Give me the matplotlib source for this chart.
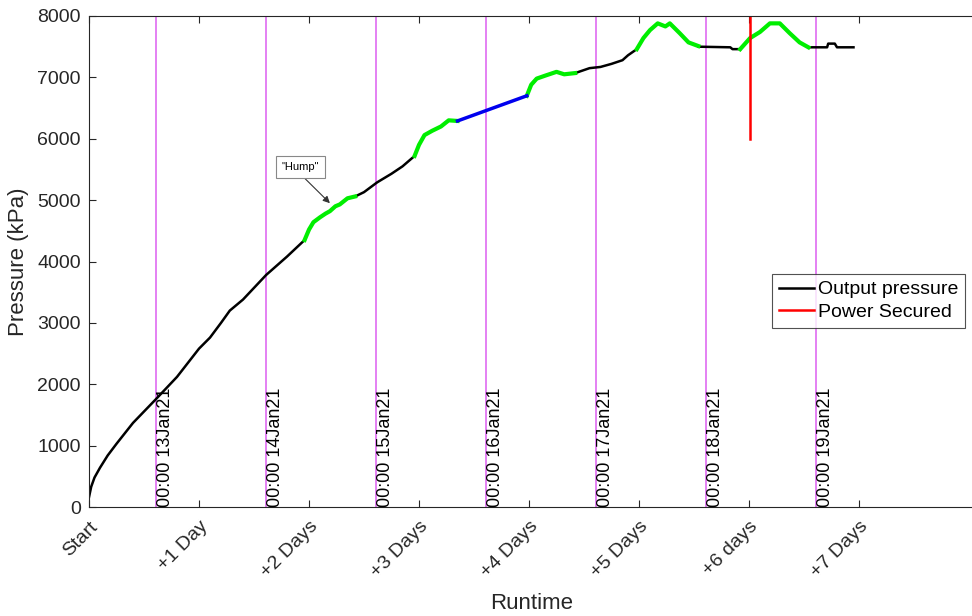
import numpy as np
import matplotlib
matplotlib.use('Agg')
import matplotlib.pyplot as plt
from matplotlib.transforms import ScaledTranslation

plt.rcParams['font.family'] = ['Liberation Sans', 'DejaVu Sans']

# runtime in days since start, pressure in kPa
black1_x = [0, 0.02, 0.05, 0.1, 0.17, 0.25, 0.4, 0.61, 0.8, 1.0, 1.1, 1.2, 1.28, 1.4, 1.61, 1.8, 1.96]
black1_y = [160, 330, 480, 640, 840, 1030, 1370, 1760, 2120, 2580, 2760, 3000, 3200, 3380, 3780, 4080, 4350]
green1_x = [1.96, 2.0, 2.04, 2.1, 2.15, 2.19, 2.24, 2.28, 2.35, 2.42]
green1_y = [4350, 4520, 4640, 4720, 4780, 4820, 4900, 4930, 5030, 5060]
black2_x = [2.42, 2.5, 2.62, 2.75, 2.85, 2.96]
black2_y = [5060, 5130, 5290, 5430, 5550, 5720]
green2_x = [2.96, 3.0, 3.05, 3.12, 3.2, 3.27, 3.35]
green2_y = [5720, 5900, 6060, 6130, 6200, 6300, 6290]
blue_x = [3.35, 3.98]
blue_y = [6290, 6700]
green3_x = [3.98, 4.02, 4.07, 4.15, 4.25, 4.32, 4.42]
green3_y = [6700, 6880, 6980, 7030, 7090, 7050, 7070]
black3_x = [4.42, 4.55, 4.65, 4.75, 4.85, 4.9, 4.98]
black3_y = [7070, 7150, 7170, 7220, 7280, 7360, 7460]
green4_x = [4.98, 5.04, 5.10, 5.17, 5.24, 5.28, 5.37, 5.45, 5.54]
green4_y = [7460, 7640, 7770, 7880, 7830, 7880, 7720, 7570, 7510]
black4_x = [5.54, 5.83, 5.85, 5.92]
black4_y = [7500, 7490, 7460, 7460]
green5_x = [5.92, 6.01, 6.10, 6.19, 6.28, 6.37, 6.46, 6.54]
green5_y = [7460, 7640, 7740, 7880, 7880, 7720, 7570, 7490]
black5_x = [6.54, 6.71, 6.72, 6.78, 6.80, 6.95]
black5_y = [7490, 7490, 7550, 7550, 7490, 7490]

midnights = [0.61, 1.61, 2.61, 3.61, 4.61, 5.61, 6.61]
midnight_labels = ['00:00 13Jan21', '00:00 14Jan21', '00:00 15Jan21', '00:00 16Jan21',
                   '00:00 17Jan21', '00:00 18Jan21', '00:00 19Jan21']
power_x = 6.01
power_y = [6000, 8000]

tick_pos = [0, 1, 2, 3, 4, 5, 6, 7]
tick_labels = ['Start', '+1 Day', '+2 Days', '+3 Days', '+4 Days', '+5 Days', '+6 days', '+7 Days']

fig = plt.figure(figsize=(9.72, 6.16), dpi=100)
ax = fig.add_axes([89/972, 109/616, 886/972, 491/616])

for m, lab in zip(midnights, midnight_labels):
    ax.axvline(m, color='#dc5ef0', lw=1.1, zorder=1)
    ax.text(m + 0.01, 0, lab, rotation=90, ha='left', va='bottom', fontsize=13, color='black')

ax.plot(black1_x, black1_y, color='black', lw=1.8, label='Output pressure')
for xs, ys in [(black2_x, black2_y), (black3_x, black3_y), (black4_x, black4_y), (black5_x, black5_y)]:
    ax.plot(xs, ys, color='black', lw=1.8)
for xs, ys in [(green1_x, green1_y), (green2_x, green2_y), (green3_x, green3_y),
               (green4_x, green4_y), (green5_x, green5_y)]:
    ax.plot(xs, ys, color='#00ee00', lw=3)
ax.plot(blue_x, blue_y, color='#0000ee', lw=2.5)
ax.plot([power_x, power_x], power_y, color='red', lw=1.8, label='Power Secured')

ax.annotate('"Hump"', xy=(2.19, 4950), xytext=(1.92, 5540), fontsize=8, ha='center', va='center',
            bbox=dict(boxstyle='square,pad=0.5', fc='white', ec='#888888', lw=0.8),
            arrowprops=dict(arrowstyle='-|>', color='#333333', lw=0.8, mutation_scale=10,
                            shrinkA=0, shrinkB=0, relpos=(0.45, 0)))

ax.set_xlim(0, 886/110)
ax.set_ylim(0, 8000)
ax.set_xticks(tick_pos)
ax.set_xticklabels(tick_labels, rotation=45, ha='right', va='top', rotation_mode='anchor')
for t in ax.get_xticklabels():
    t.set_transform(t.get_transform() + ScaledTranslation(0.06, 0, fig.dpi_scale_trans))
ax.set_yticks(range(0, 8001, 1000))
ax.tick_params(direction='in', length=5, labelsize=14, colors='#262626', top=True, right=False, pad=6)
ax.tick_params(axis='x', pad=8)
ax.spines['right'].set_visible(False)
for s in ax.spines.values():
    s.set_color('#262626')
    s.set_linewidth(0.8)
ax.set_ylabel('Pressure (kPa)', fontsize=16, color='#262626', labelpad=6)
ax.set_xlabel('Runtime', fontsize=16, color='#262626', labelpad=8)

leg = ax.legend(loc='upper right', bbox_to_anchor=(965/972, (616-274)/616), bbox_transform=fig.transFigure,
                fontsize=14, frameon=True, fancybox=False, borderaxespad=0, handlelength=1.8,
                handletextpad=0.2, borderpad=0.35, labelspacing=0.25)
leg.get_frame().set_edgecolor('#262626')
leg.get_frame().set_linewidth(0.8)

fig.savefig('out.png', dpi=100)
